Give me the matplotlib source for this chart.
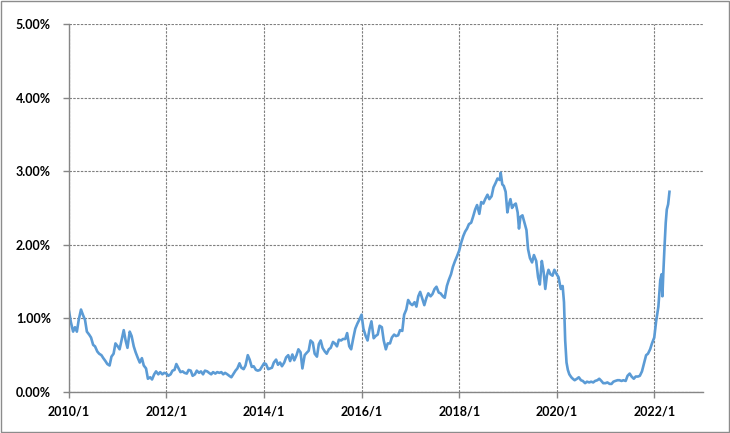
#!/usr/bin/env python3

import matplotlib
matplotlib.use("Agg")
import matplotlib.pyplot as plt
from matplotlib.patches import Rectangle
from matplotlib.ticker import FuncFormatter
import pandas as pd

# Data (yield, %)
dates = [
    "2010-01-01", "2010-01-15", "2010-02-01", "2010-02-15", "2010-03-01", "2010-03-15",
    "2010-04-01", "2010-04-15", "2010-05-01", "2010-05-15", "2010-06-01", "2010-06-15",
    "2010-07-01", "2010-07-15", "2010-08-01", "2010-08-15", "2010-09-01", "2010-09-15",
    "2010-10-01", "2010-10-15", "2010-11-01", "2010-11-15", "2010-12-01", "2010-12-15",
    "2011-01-01", "2011-01-15", "2011-02-01", "2011-02-15", "2011-03-01", "2011-03-15",
    "2011-04-01", "2011-04-15", "2011-05-01", "2011-05-15", "2011-06-01", "2011-06-15",
    "2011-07-01", "2011-07-15", "2011-08-01", "2011-08-15", "2011-09-01", "2011-09-15",
    "2011-10-01", "2011-10-15", "2011-11-01", "2011-11-15", "2011-12-01", "2011-12-15",
    "2012-01-01", "2012-01-15", "2012-02-01", "2012-02-15", "2012-03-01", "2012-03-15",
    "2012-04-01", "2012-04-15", "2012-05-01", "2012-05-15", "2012-06-01", "2012-06-15",
    "2012-07-01", "2012-07-15", "2012-08-01", "2012-08-15", "2012-09-01", "2012-09-15",
    "2012-10-01", "2012-10-15", "2012-11-01", "2012-11-15", "2012-12-01", "2012-12-15",
    "2013-01-01", "2013-01-15", "2013-02-01", "2013-02-15", "2013-03-01", "2013-03-15",
    "2013-04-01", "2013-04-15", "2013-05-01", "2013-05-15", "2013-06-01", "2013-06-15",
    "2013-07-01", "2013-07-15", "2013-08-01", "2013-08-15", "2013-09-01", "2013-09-15",
    "2013-10-01", "2013-10-15", "2013-11-01", "2013-11-15", "2013-12-01", "2013-12-15",
    "2014-01-01", "2014-01-15", "2014-02-01", "2014-02-15", "2014-03-01", "2014-03-15",
    "2014-04-01", "2014-04-15", "2014-05-01", "2014-05-15", "2014-06-01", "2014-06-15",
    "2014-07-01", "2014-07-15", "2014-08-01", "2014-08-15", "2014-09-01", "2014-09-15",
    "2014-10-01", "2014-10-15", "2014-11-01", "2014-11-15", "2014-12-01", "2014-12-15",
    "2015-01-01", "2015-01-15", "2015-02-01", "2015-02-15", "2015-03-01", "2015-03-15",
    "2015-04-01", "2015-04-15", "2015-05-01", "2015-05-15", "2015-06-01", "2015-06-15",
    "2015-07-01", "2015-07-15", "2015-08-01", "2015-08-15", "2015-09-01", "2015-09-15",
    "2015-10-01", "2015-10-15", "2015-11-01", "2015-11-15", "2015-12-01", "2015-12-15",
    "2016-01-01", "2016-01-15", "2016-02-01", "2016-02-15", "2016-03-01", "2016-03-15",
    "2016-04-01", "2016-04-15", "2016-05-01", "2016-05-15", "2016-06-01", "2016-06-15",
    "2016-07-01", "2016-07-15", "2016-08-01", "2016-08-15", "2016-09-01", "2016-09-15",
    "2016-10-01", "2016-10-15", "2016-11-01", "2016-11-15", "2016-12-01", "2016-12-15",
    "2017-01-01", "2017-01-15", "2017-02-01", "2017-02-15", "2017-03-01", "2017-03-15",
    "2017-04-01", "2017-04-15", "2017-05-01", "2017-05-15", "2017-06-01", "2017-06-15",
    "2017-07-01", "2017-07-15", "2017-08-01", "2017-08-15", "2017-09-01", "2017-09-15",
    "2017-10-01", "2017-10-15", "2017-11-01", "2017-11-15", "2017-12-01", "2017-12-15",
    "2018-01-01", "2018-01-15", "2018-02-01", "2018-02-15", "2018-03-01", "2018-03-15",
    "2018-04-01", "2018-04-15", "2018-05-01", "2018-05-15", "2018-06-01", "2018-06-15",
    "2018-07-01", "2018-07-15", "2018-08-01", "2018-08-15", "2018-09-01", "2018-09-15",
    "2018-10-01", "2018-10-15", "2018-11-01", "2018-11-08", "2018-11-20", "2018-12-01",
    "2018-12-15", "2018-12-28",
    "2019-01-07", "2019-01-20", "2019-02-01", "2019-02-15", "2019-03-01", "2019-03-15",
    "2019-03-25", "2019-04-05", "2019-04-20", "2019-05-05", "2019-05-20", "2019-06-01",
    "2019-06-15", "2019-07-01", "2019-07-15", "2019-08-01", "2019-08-15", "2019-08-28",
    "2019-09-12", "2019-09-25", "2019-10-08", "2019-10-20", "2019-11-01", "2019-11-15",
    "2019-12-01", "2019-12-15",
    "2020-01-01", "2020-01-15", "2020-02-01", "2020-02-15", "2020-02-25", "2020-03-05",
    "2020-03-15", "2020-03-25", "2020-04-05", "2020-04-20", "2020-05-01", "2020-05-15",
    "2020-06-01", "2020-06-15", "2020-07-01", "2020-07-15", "2020-08-01", "2020-08-15",
    "2020-09-01", "2020-09-15", "2020-10-01", "2020-10-15", "2020-11-01", "2020-11-15",
    "2020-12-01", "2020-12-15",
    "2021-01-01", "2021-01-15", "2021-02-01", "2021-02-15", "2021-03-01", "2021-03-15",
    "2021-04-01", "2021-04-15", "2021-05-01", "2021-05-15", "2021-06-01", "2021-06-15",
    "2021-07-01", "2021-07-15", "2021-08-01", "2021-08-15", "2021-09-01", "2021-09-15",
    "2021-10-01", "2021-10-15", "2021-11-01", "2021-11-15", "2021-12-01", "2021-12-15",
    "2022-01-01", "2022-01-15", "2022-02-01", "2022-02-15", "2022-02-25", "2022-03-03",
    "2022-03-10", "2022-03-18", "2022-03-28", "2022-04-05", "2022-04-15", "2022-04-25",
]

yields = [
    1.10, 0.95, 0.82, 0.88, 0.82, 0.98, 1.12, 1.05, 0.98, 0.82, 0.78, 0.74,
    0.64, 0.62, 0.55, 0.52, 0.50, 0.46, 0.42, 0.38, 0.36, 0.48, 0.52, 0.66,
    0.62, 0.58, 0.72, 0.84, 0.70, 0.60, 0.82, 0.76, 0.62, 0.54, 0.46, 0.40,
    0.46, 0.36, 0.32, 0.18, 0.20, 0.17, 0.24, 0.28, 0.24, 0.27, 0.24, 0.26,
    0.25, 0.22, 0.24, 0.29, 0.30, 0.38, 0.32, 0.27, 0.28, 0.26, 0.25, 0.30,
    0.29, 0.22, 0.24, 0.29, 0.26, 0.28, 0.24, 0.29, 0.28, 0.26, 0.24, 0.27,
    0.25, 0.27, 0.26, 0.27, 0.24, 0.26, 0.24, 0.22, 0.20, 0.24, 0.29, 0.32,
    0.39, 0.33, 0.31, 0.36, 0.50, 0.44, 0.34, 0.35, 0.30, 0.29, 0.30, 0.34,
    0.39, 0.38, 0.31, 0.32, 0.33, 0.40, 0.44, 0.37, 0.40, 0.35, 0.40, 0.47,
    0.50, 0.42, 0.51, 0.43, 0.50, 0.58, 0.54, 0.32, 0.50, 0.53, 0.56, 0.70,
    0.67, 0.52, 0.48, 0.65, 0.70, 0.60, 0.55, 0.52, 0.58, 0.60, 0.68, 0.66,
    0.62, 0.71, 0.70, 0.72, 0.72, 0.80, 0.62, 0.58, 0.74, 0.86, 0.93, 0.98,
    1.05, 0.86, 0.76, 0.70, 0.86, 0.96, 0.73, 0.76, 0.78, 0.90, 0.88, 0.70,
    0.58, 0.66, 0.66, 0.74, 0.78, 0.76, 0.77, 0.84, 0.83, 1.05, 1.12, 1.25,
    1.20, 1.18, 1.22, 1.16, 1.30, 1.36, 1.26, 1.18, 1.28, 1.34, 1.30, 1.33,
    1.40, 1.43, 1.35, 1.34, 1.30, 1.28, 1.44, 1.52, 1.60, 1.70, 1.78, 1.84,
    1.92, 2.02, 2.12, 2.18, 2.22, 2.28, 2.30, 2.38, 2.48, 2.54, 2.42, 2.58,
    2.56, 2.62, 2.68, 2.62, 2.66, 2.78, 2.84, 2.90, 2.88, 2.98, 2.82, 2.80,
    2.72, 2.44,
    2.54, 2.62, 2.50, 2.54, 2.56, 2.44, 2.22, 2.38, 2.40, 2.30, 2.20, 1.94,
    1.82, 1.76, 1.86, 1.78, 1.56, 1.46, 1.78, 1.64, 1.40, 1.58, 1.66, 1.60,
    1.58, 1.66,
    1.60, 1.56, 1.40, 1.44, 1.22, 0.70, 0.40, 0.30, 0.24, 0.20, 0.18, 0.16,
    0.18, 0.20, 0.16, 0.15, 0.12, 0.14, 0.13, 0.14, 0.13, 0.15, 0.16, 0.18,
    0.15, 0.12,
    0.12, 0.13, 0.11, 0.11, 0.14, 0.15, 0.16, 0.16, 0.15, 0.16, 0.15, 0.22,
    0.25, 0.21, 0.18, 0.21, 0.21, 0.22, 0.28, 0.38, 0.50, 0.52, 0.58, 0.66,
    0.74, 0.96, 1.16, 1.52, 1.60, 1.30, 1.62, 1.94, 2.30, 2.48, 2.55, 2.72,
]

tick_years = [2010, 2012, 2014, 2016, 2018, 2020, 2022]
y_ticks = [0, 1, 2, 3, 4, 5]

x = pd.to_datetime(dates)

fig = plt.figure(figsize=(7.3, 4.33), dpi=100)
ax = fig.add_axes([0.0945, 0.0947, 0.8685, 0.85])

ax.plot(x, yields, color="#5B9BD5", linewidth=1.9)

ax.set_xlim(pd.Timestamp("2010-01-01"), pd.Timestamp("2023-01-01"))
ax.set_ylim(0, 5)
ax.set_xticks([pd.Timestamp(f"{y}-01-01") for y in tick_years])
ax.set_xticklabels([f"{y}/1" for y in tick_years])
ax.set_yticks(y_ticks)
ax.yaxis.set_major_formatter(FuncFormatter(lambda v, p: f"{v:.2f}%"))

# dashed grey grid like the excel original
ax.grid(True, color="#7f7f7f", linestyle=(0, (2.2, 1.2)), linewidth=0.8)
ax.set_axisbelow(True)

for s in ["top", "right"]:
    ax.spines[s].set_visible(False)
for s in ["left", "bottom"]:
    ax.spines[s].set_color("#868686")
    ax.spines[s].set_linewidth(1.0)

ax.tick_params(axis="both", colors="#868686", length=4, width=1.0,
               labelcolor="black", labelsize=9)
ax.tick_params(axis="y", pad=9)
ax.tick_params(axis="x", pad=6)
for lab in ax.get_xticklabels() + ax.get_yticklabels():
    lab.set_fontfamily(["Lato", "DejaVu Sans"])
    lab.set_fontweight("bold")

fig.add_artist(Rectangle((0.0007, 0.0012), 0.9986, 0.9976, transform=fig.transFigure,
                         fill=False, edgecolor="#8c8c8c", linewidth=1.0))

fig.savefig("out.png", dpi=100)
